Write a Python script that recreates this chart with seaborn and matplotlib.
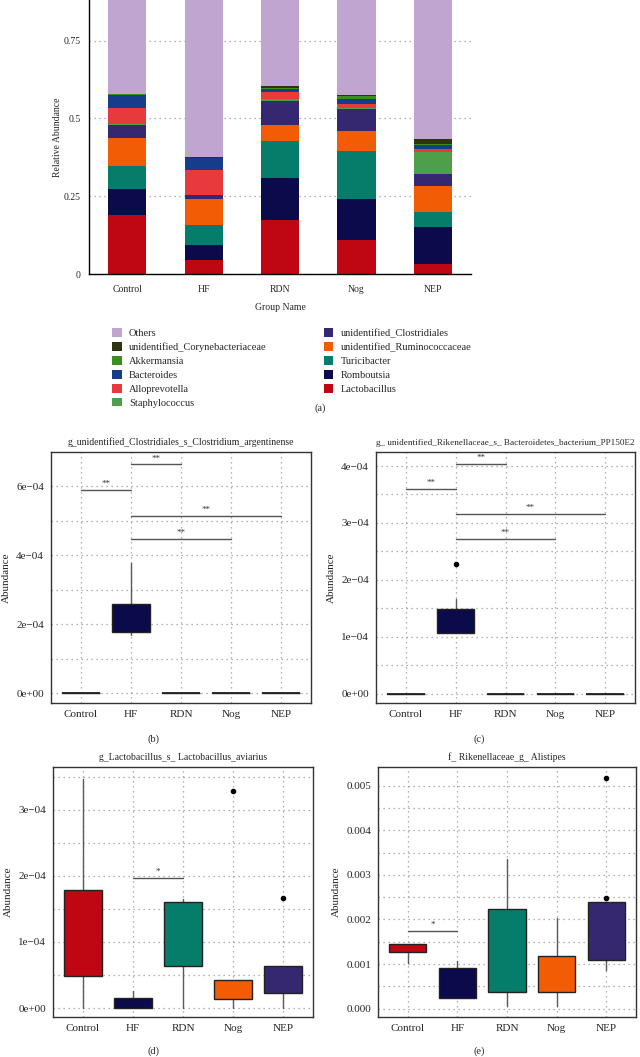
import numpy as np
import matplotlib
matplotlib.use('Agg')
import matplotlib.pyplot as plt
import seaborn as sns
from matplotlib.patches import Patch

groups = ['Control', 'HF', 'RDN', 'Nog', 'NEP']

## (a) relative abundance of the top genera, stacked bottom -> top
taxa = ['Lactobacillus', 'Romboutsia', 'Turicibacter', 'unidentified_Ruminococcaceae',
        'unidentified_Clostridiales', 'Staphylococcus', 'Alloprevotella', 'Bacteroides',
        'Akkermansia', 'unidentified_Corynebacteriaceae', 'Others']
lactobacillus = [0.191, 0.046, 0.173, 0.108, 0.032]
romboutsia = [0.082, 0.048, 0.136, 0.134, 0.118]
turicibacter = [0.075, 0.062, 0.120, 0.155, 0.050]
ruminococcaceae = [0.089, 0.086, 0.051, 0.062, 0.082]
clostridiales = [0.043, 0.012, 0.077, 0.070, 0.040]
staphylococcus = [0.003, 0.001, 0.005, 0.006, 0.070]
alloprevotella = [0.052, 0.080, 0.022, 0.012, 0.009]
bacteroides = [0.042, 0.038, 0.011, 0.015, 0.015]
akkermansia = [0.001, 0.001, 0.004, 0.009, 0.002]
corynebacteriaceae = [0.001, 0.001, 0.004, 0.003, 0.017]
others = [0.421, 0.625, 0.397, 0.426, 0.565]

taxa_colors = ['#BE0713', '#0B0A4A', '#067C6A', '#F25C05', '#352870', '#4F9E4A',
               '#E8393C', '#163C8C', '#3A8F1B', '#2B3510', '#BFA5CF']
group_colors = ['#BE0713', '#0B0A4A', '#067C6A', '#F25C05', '#352870']

## box statistics (b)-(e): whislo, q1, med, q3, whishi
b_title = 'g_unidentified_Clostridiales_s_Clostridium_argentinense'
b_lo = [0, 1.68e-4, 0, 0, 0]
b_q1 = [0, 1.76e-4, 0, 0, 0]
b_med = [0, 2.26e-4, 0, 0, 0]
b_q3 = [0, 2.59e-4, 0, 0, 0]
b_hi = [0, 3.77e-4, 0, 0, 0]
b_out = [[], [], [], [], []]
b_sig = [(0, 1, 5.88e-4, '**'), (1, 2, 6.63e-4, '**'), (1, 4, 5.13e-4, '**'), (1, 3, 4.46e-4, '**')]

c_title = 'g_ unidentified_Rikenellaceae_s_ Bacteroidetes_bacterium_PP150E2'
c_lo = [0, 1.07e-4, 0, 0, 0]
c_q1 = [0, 1.07e-4, 0, 0, 0]
c_med = [0, 1.08e-4, 0, 0, 0]
c_q3 = [0, 1.48e-4, 0, 0, 0]
c_hi = [0, 1.67e-4, 0, 0, 0]
c_out = [[], [2.27e-4], [], [], []]
c_sig = [(0, 1, 3.60e-4, '**'), (1, 2, 4.04e-4, '**'), (1, 4, 3.16e-4, '**'), (1, 3, 2.72e-4, '**')]

d_title = 'g_Lactobacillus_s_ Lactobacillus_aviarius'
d_lo = [0, 0, 0, 0, 0]
d_q1 = [0.48e-4, 0, 0.64e-4, 0.14e-4, 0.23e-4]
d_med = [0.94e-4, 0, 1.34e-4, 0.23e-4, 0.43e-4]
d_q3 = [1.79e-4, 0.15e-4, 1.60e-4, 0.43e-4, 0.64e-4]
d_hi = [3.47e-4, 0.26e-4, 1.65e-4, 0.43e-4, 0.64e-4]
d_out = [[], [], [], [3.28e-4], [1.66e-4]]
d_sig = [(1, 2, 1.97e-4, '*')]

e_title = 'f_ Rikenellaceae_g_ Alistipes'
e_lo = [1.03e-3, 0.25e-3, 0.07e-3, 0.07e-3, 0.86e-3]
e_q1 = [1.26e-3, 0.25e-3, 0.37e-3, 0.37e-3, 1.09e-3]
e_med = [1.36e-3, 0.50e-3, 0.93e-3, 0.40e-3, 2.00e-3]
e_q3 = [1.44e-3, 0.91e-3, 2.23e-3, 1.19e-3, 2.40e-3]
e_hi = [1.45e-3, 1.08e-3, 3.36e-3, 2.04e-3, 2.40e-3]
e_out = [[], [], [], [], [2.48e-3, 5.18e-3]]
e_sig = [(0, 1, 1.75e-3, '*')]

sns.set_theme(style='white')
plt.rcParams['font.family'] = ['Liberation Serif', 'DejaVu Serif']
plt.rcParams['axes.unicode_minus'] = True

W, H = 640, 1057
fig = plt.figure(figsize=(W / 100, H / 100), dpi=100)


def px_axes(left, top, right, bottom):
    return fig.add_axes([left / W, 1 - bottom / H, (right - left) / W, (bottom - top) / H])


GRID = dict(color='#9a9a9a', linestyle=(0, (1, 3)), linewidth=0.9)

## ---------- (a) stacked bars ----------
ax = px_axes(89, 0, 471, 274)
series = [lactobacillus, romboutsia, turicibacter, ruminococcaceae, clostridiales,
          staphylococcus, alloprevotella, bacteroides, akkermansia, corynebacteriaceae, others]
cum = np.cumsum(np.array(series), axis=0)
for k in range(len(taxa) - 1, -1, -1):
    sns.barplot(x=groups, y=cum[k], color=taxa_colors[k], saturation=1, width=0.5,
                edgecolor='none', ax=ax, zorder=2)
ax.set_xlim(-0.5, 4.5)
ax.set_ylim(0, 0.881)
ax.set_yticks([0, 0.25, 0.5, 0.75])
ax.set_yticklabels(['0', '0.25', '0.5', '0.75'], fontsize=7)
ax.set_xticks(np.arange(-0.5, 5, 1))
ax.set_xticklabels([])
ax.set_xticks(range(5), minor=True)
ax.set_xticklabels(groups, minor=True, fontsize=7)
ax.tick_params(axis='x', which='major', length=5, width=1, direction='out', color='black')
ax.tick_params(axis='x', which='minor', length=0, pad=8)
ax.tick_params(axis='y', length=4, width=1, direction='out', color='black', pad=2)
ax.yaxis.grid(True, **GRID)
ax.set_axisbelow(True)
for s in ['top', 'right']:
    ax.spines[s].set_visible(False)
for s in ['left', 'bottom']:
    ax.spines[s].set_color('black')
    ax.spines[s].set_linewidth(1)
ax.set_xlabel('')
ax.set_ylabel('Relative Abundance', fontsize=7, labelpad=1)
fig.text(280 / W, 1 - 307 / H, 'Group Name', ha='center', va='center', fontsize=7)

handles = [Patch(facecolor=taxa_colors[k], edgecolor='none') for k in range(len(taxa) - 1, -1, -1)]
labels = [taxa[k] for k in range(len(taxa) - 1, -1, -1)]
fig.legend(handles, labels, ncol=2, loc='upper left', bbox_to_anchor=(103 / W, 1 - 319 / H),
           frameon=False, fontsize=7.5, handlelength=0.9, handleheight=0.9,
           handletextpad=0.7, columnspacing=5.5, labelspacing=0.38)
fig.text(320 / W, 1 - 408 / H, '(a)', ha='center', va='center', fontsize=7.5)


## ---------- (b)-(e) boxplots ----------
def fmt_sci(v):
    return f'{v:.0e}'.replace('-', '\u2212')


def box_panel(box, title, lo, q1, med, q3, hi, out, sig, ylim, majors, minors, labels, tag, tagpos,
              title_size=7):
    ax = px_axes(*box)
    stats = [dict(whislo=lo[i], q1=q1[i], med=med[i], q3=q3[i], whishi=hi[i], fliers=out[i])
             for i in range(5)]
    arts = ax.bxp(stats, positions=range(5), widths=0.75, patch_artist=True, showcaps=False,
                  boxprops=dict(edgecolor='#222222', linewidth=1.0),
                  whiskerprops=dict(color='#5a5a5a', linewidth=1.0),
                  medianprops=dict(color='#111111', linewidth=1.2),
                  flierprops=dict(marker='o', markerfacecolor='black', markeredgecolor='black',
                                  markersize=3))
    for patch, c in zip(arts['boxes'], group_colors):
        patch.set_facecolor(c)
        patch.set_zorder(3)
    for (i, j, y, lab) in sig:
        ax.plot([i, j], [y, y], color='#555555', linewidth=1.0, zorder=4)
        ax.text((i + j) / 2, y + (ylim[1] - ylim[0]) * 0.008, lab, ha='center', va='bottom',
                fontsize=6.5, color='#333333')
    ax.set_xlim(-0.6, 4.6)
    ax.set_ylim(*ylim)
    ax.set_xticks(range(5))
    ax.set_xticklabels(groups, fontsize=8)
    ax.set_yticks(majors)
    ax.set_yticklabels(labels, fontsize=8)
    ax.set_yticks(minors, minor=True)
    ax.tick_params(axis='both', which='major', length=3, width=0.8, direction='out',
                   color='#333333', pad=2)
    ax.tick_params(axis='y', which='minor', length=0)
    ax.grid(True, which='both', **GRID)
    ax.set_axisbelow(True)
    for s in ax.spines.values():
        s.set_visible(True)
        s.set_color('#333333')
        s.set_linewidth(1.0)
    ax.set_title(title, fontsize=title_size, pad=5)
    ax.set_ylabel('Abundance', fontsize=8, labelpad=4)
    fig.text(tagpos[0] / W, 1 - tagpos[1] / H, tag, ha='center', va='center', fontsize=7.5)


bm = [0, 2e-4, 4e-4, 6e-4]
box_panel((51, 452, 311, 703), b_title, b_lo, b_q1, b_med, b_q3, b_hi, b_out, b_sig,
          (-0.29e-4, 6.99e-4), bm, [1e-4, 3e-4, 5e-4], [fmt_sci(v) for v in bm], '(b)', (153, 739))

cm = [0, 1e-4, 2e-4, 3e-4, 4e-4]
box_panel((376, 452, 635, 703), c_title, c_lo, c_q1, c_med, c_q3, c_hi, c_out, c_sig,
          (-0.164e-4, 4.246e-4), cm, [0.5e-4, 1.5e-4, 2.5e-4, 3.5e-4],
          [fmt_sci(v) for v in cm], '(c)', (479, 739), title_size=6.6)

dm = [0, 1e-4, 2e-4, 3e-4]
box_panel((53, 767, 313, 1017), d_title, d_lo, d_q1, d_med, d_q3, d_hi, d_out, d_sig,
          (-0.136e-4, 3.646e-4), dm, [0.5e-4, 1.5e-4, 2.5e-4, 3.5e-4],
          [fmt_sci(v) for v in dm], '(d)', (153, 1051))

em = [0, 1e-3, 2e-3, 3e-3, 4e-3, 5e-3]
box_panel((378, 767, 636, 1017), e_title, e_lo, e_q1, e_med, e_q3, e_hi, e_out, e_sig,
          (-0.187e-3, 5.42e-3), em, [0.5e-3, 1.5e-3, 2.5e-3, 3.5e-3, 4.5e-3],
          [f'{v:.3f}' for v in em], '(e)', (479, 1051))

fig.savefig('out.png', dpi=100)
